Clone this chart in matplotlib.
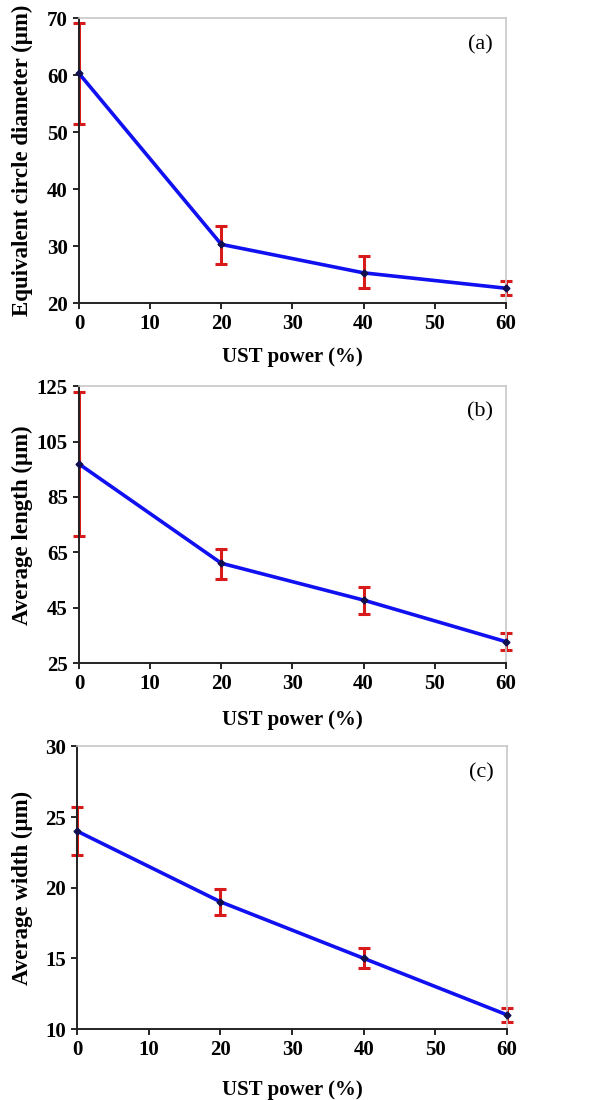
import matplotlib
matplotlib.use("Agg")
import matplotlib.pyplot as plt

# UST power levels (%)
power = [0, 20, 40, 60]

# (a) equivalent circle diameter (um)
ecd = [60.3, 30.3, 25.3, 22.6]
ecd_lo = [51.5, 26.9, 22.6, 21.4]
ecd_hi = [69.2, 33.6, 28.2, 23.8]

# (b) average length (um)
length = [96.9, 61.1, 47.8, 32.8]
length_lo = [70.9, 55.4, 42.8, 29.8]
length_hi = [123.0, 66.2, 52.6, 36.1]

# (c) average width (um)
width = [24.0, 19.0, 15.0, 11.0]
width_lo = [22.3, 18.1, 14.3, 10.5]
width_hi = [25.7, 19.9, 15.7, 11.5]

panels = [
    ("(a)", "Equivalent circle diameter (\u03bcm)", ecd, ecd_lo, ecd_hi, (20, 70), range(20, 71, 10)),
    ("(b)", "Average length (\u03bcm)", length, length_lo, length_hi, (25, 125), range(25, 126, 20)),
    ("(c)", "Average width (\u03bcm)", width, width_lo, width_hi, (10, 30), range(10, 31, 5)),
]

plt.rcParams["font.family"] = ["Liberation Serif", "DejaVu Serif"]

fig = plt.figure(figsize=(6.03, 11.0), dpi=100)
rects = [
    [0.131, 0.7245, 0.708, 0.259],
    [0.131, 0.397, 0.708, 0.252],
    [0.128, 0.0645, 0.713, 0.257],
]
xlabel_pad = [9, 11, 14]
ylabel_x = [33, 33, 33]  # pixel x of the y-label's right edge

for (tag, ylab, y, lo, hi, ylim, yt), rect, pad, lx in zip(panels, rects, xlabel_pad, ylabel_x):
    ax = fig.add_axes(rect)
    yerr = [[v - l for v, l in zip(y, lo)], [h - v for v, h in zip(y, hi)]]
    eb = ax.errorbar(power, y, yerr=yerr, fmt="none", ecolor="#d91a1a",
                     elinewidth=2.2, capsize=4, capthick=2.2, zorder=2)
    for art in eb.lines[1] + eb.lines[2]:
        art.set_clip_on(False)
    ax.plot(power, y, color="#1010f0", lw=2.6, zorder=3, clip_on=False)
    ax.plot(power, y, "D", color="#101050", ms=3.5, zorder=4, clip_on=False)
    ax.set_xlim(0, 60)
    ax.set_ylim(*ylim)
    ax.set_xticks(range(0, 61, 10))
    ax.set_yticks(list(yt))
    ax.tick_params(direction="out", length=4, width=1.2, labelsize=15, pad=4)
    for lbl in ax.get_xticklabels() + ax.get_yticklabels():
        lbl.set_fontweight("bold")
    for s in ("top", "right"):
        ax.spines[s].set_color("#c8c8c8")
        ax.spines[s].set_linewidth(1.2)
    for s in ("left", "bottom"):
        ax.spines[s].set_color("#222222")
        ax.spines[s].set_linewidth(1.4)
    ax.set_xlabel("UST power (%)", fontsize=15, fontweight="bold", labelpad=pad)
    ax.set_ylabel(ylab, fontsize=16.5, fontweight="bold")
    ax.yaxis.set_label_coords((lx - rect[0] * 603) / (rect[2] * 603), 0.5)
    ax.text(0.97, 0.94, tag, transform=ax.transAxes, ha="right", va="top", fontsize=16)

fig.savefig("out.png", dpi=100)
